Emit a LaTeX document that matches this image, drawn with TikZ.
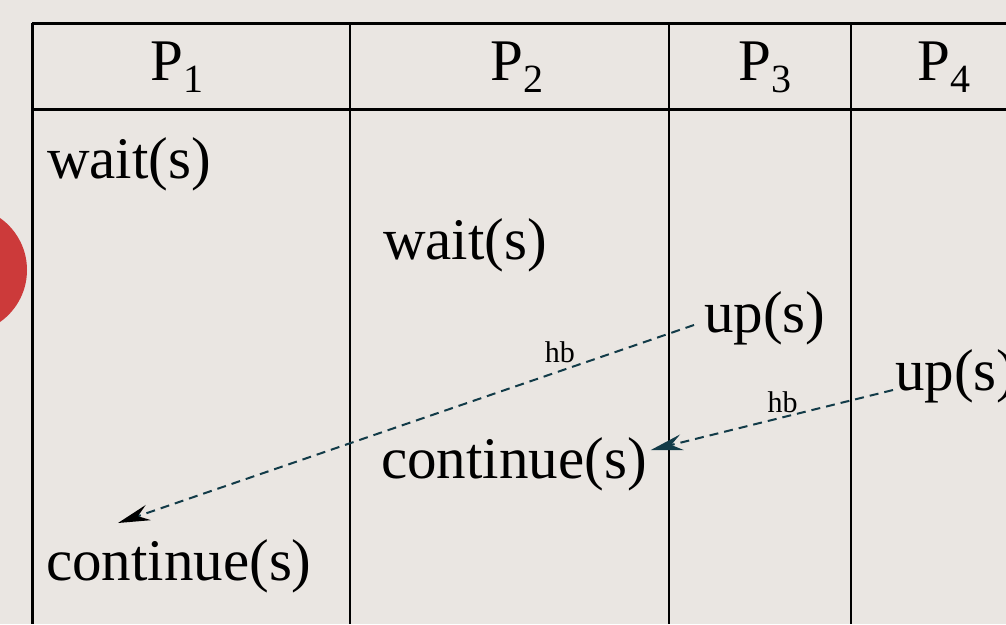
\documentclass[tikz,border=0pt]{standalone}
\usepackage{fontspec}
\setmainfont{Liberation Serif}
\usetikzlibrary{arrows.meta}
\definecolor{bgc}{HTML}{EAE6E2}
\definecolor{redc}{HTML}{CC3A3A}
\definecolor{hbline}{HTML}{123B48}
\tikzset{
  big/.style={inner sep=0pt, anchor=base west, font=\fontsize{59}{70}\selectfont},
  hdr/.style={inner sep=0pt, anchor=base west, font=\fontsize{59}{70}\selectfont},
  hblab/.style={inner sep=0pt, font=\fontsize{30}{34}\selectfont},
  thick3/.style={line width=3pt},
  thin2/.style={line width=2pt},
  hbarrow/.style={hbline, line width=2pt, dash pattern=on 9pt off 6pt,
     -{Stealth[length=32pt,width=16pt,inset=11pt,#1]}},
}
\newcommand{\Psub}[1]{P\raisebox{-12pt}{\fontsize{40}{40}\selectfont #1}}
\begin{document}
\begin{tikzpicture}[x=1pt,y=-1pt]
  \fill[bgc] (0,0) rectangle (1006,624);
  \useasboundingbox (0,0) rectangle (1006,624);
  % red circle at left edge
  \fill[redc] (-36.6,270) circle (63.6);
  % table
  \draw[thick3] (32,23) -- (1006,23);
  \draw[thick3] (32,109) -- (1006,109);
  \draw[thick3] (32,23) -- (32,624);
  \draw[thin2] (350,23) -- (350,624);
  \draw[thin2] (669,23) -- (669,624);
  \draw[thin2] (851,23) -- (851,624);
  % headers
  \node[hdr] (h1) at (150,80) {\Psub{1}};
  \node[hdr] (h2) at (490,80) {\Psub{2}};
  \node[hdr] (h3) at (738,80) {\Psub{3}};
  \node[hdr] (h4) at (917,80) {\Psub{4}};
  % events
  \node[big] (w1) at (47,178) {wait(s)};
  \node[big] (w2) at (383,259) {wait(s)};
  \node[big] (u3) at (704,332) {up(s)};
  \node[big] (u4) at (895,390) {up(s)};
  \node[big] (c2) at (381,478) {continue(s)};
  \node[big] (c1) at (46,580) {continue(s)};
  \coordinate (c1tip) at ([shift={(72,-57)}]c1.base west);
  % happens-before arrows
  \draw[hbarrow={black}] ([shift={(-10,-7)}]u3.base west) -- (c1tip)
     node[hblab, pos=0.233, yshift=19pt, text=black] {hb};
  \draw[hbarrow={hbline}] ([shift={(-2,0)}]u4.base west) -- ([shift={(4,-28)}]c2.base east)
     node[hblab, pos=0.456, yshift=15pt, text=black] {hb};
\end{tikzpicture}
\end{document}
